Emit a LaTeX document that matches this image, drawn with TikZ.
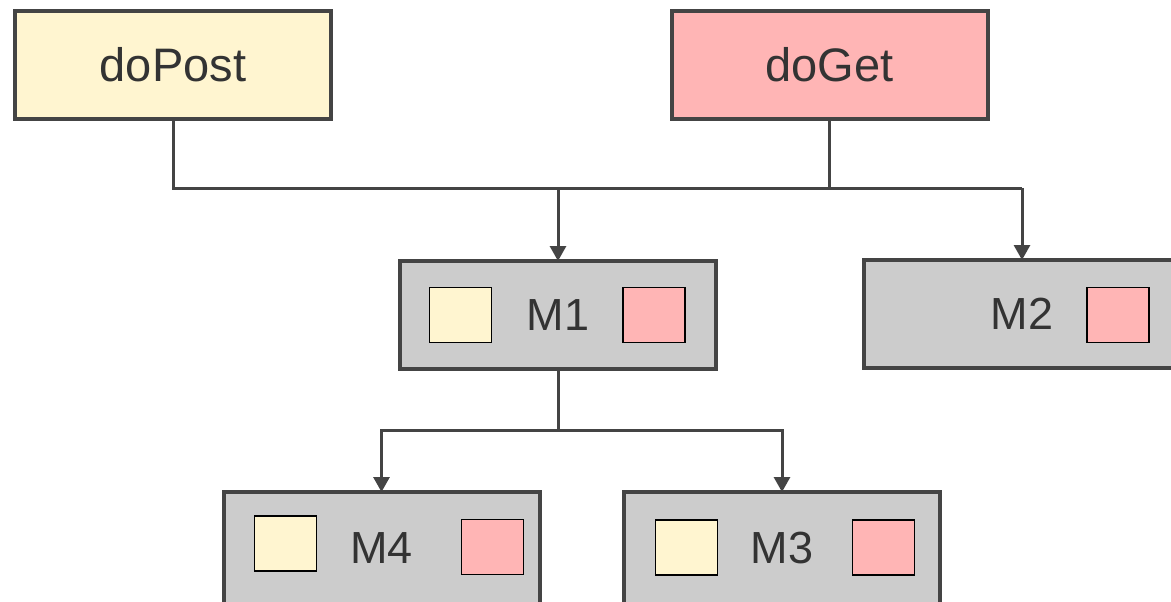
\documentclass[tikz,border=0pt]{standalone}
\usepackage{fontspec}
\setmainfont{Liberation Sans}
\usetikzlibrary{arrows.meta}

\definecolor{postfill}{HTML}{FFF5D0}
\definecolor{getfill}{HTML}{FFB5B5}
\definecolor{modfill}{HTML}{CCCCCC}
\definecolor{edgegray}{HTML}{444444}
\definecolor{textgray}{HTML}{333333}

\begin{document}
\begin{tikzpicture}[
            x=1pt, y=-1pt,
            method/.style={draw=edgegray, line width=4pt, fill=#1,
                minimum width=316pt, minimum height=108pt,
                inner sep=0pt, outer sep=0pt, text=textgray,
                font=\fontsize{47}{56}\selectfont},
            module/.style={method=modfill, font=\fontsize{45}{54}\selectfont},
            swatch/.style={draw=black, line width=1.5pt, fill=#1,
                minimum width=62pt, minimum height=55pt,
                inner sep=0pt, outer sep=0pt},
            link/.style={draw=edgegray, line width=3pt},
            arrow/.style={link, -{Triangle[width=16pt,length=15pt]}}
        ]
        \path[use as bounding box, clip] (0, 0) rectangle (1171, 602);

        \node[method=postfill] (post) at (173, 65)    {doPost};
        \node[method=getfill]  (get)  at (829.5, 65)  {doGet};

        \node[module] (m1) at (558, 315)  {M1};
        \node[module] (m2) at (1022, 314) {M2};
        % bottom row runs past the lower edge
        \node[module, minimum height=120pt, text depth=8pt] (m4) at (381.5, 552) {M4};
        \node[module, minimum height=120pt, text depth=8pt] (m3) at (782, 552)  {M3};

        \node[swatch=postfill] (m1post) at (460.5, 315) {};
        \node[swatch=getfill]  (m1get)  at (654, 315)   {};
        \node[swatch=getfill]  (m2get)  at (1118, 315)  {};
        \node[swatch=postfill] (m4post) at (285.5, 543.5) {};
        \node[swatch=getfill]  (m4get)  at (492.5, 547) {};
        \node[swatch=postfill] (m3post) at (686.5, 547.5) {};
        \node[swatch=getfill]  (m3get)  at (883.5, 547.5) {};

        \coordinate (split) at (558, 188);
        \coordinate (fork)  at (558, 430);

        \draw[link] (post.south) -- (post.south |- split) -- (m2.north |- split);
        \draw[link] (get.south) -- (get.south |- split);
        \draw[arrow] (split) -- (m1.north);
        \draw[arrow] (m2.north |- split) -- (m2.north);

        \draw[link] (m1.south) -- (fork);
        \draw[arrow] (fork) -| (m4.north);
        \draw[arrow] (fork) -| (m3.north);
    \end{tikzpicture}
\end{document}
